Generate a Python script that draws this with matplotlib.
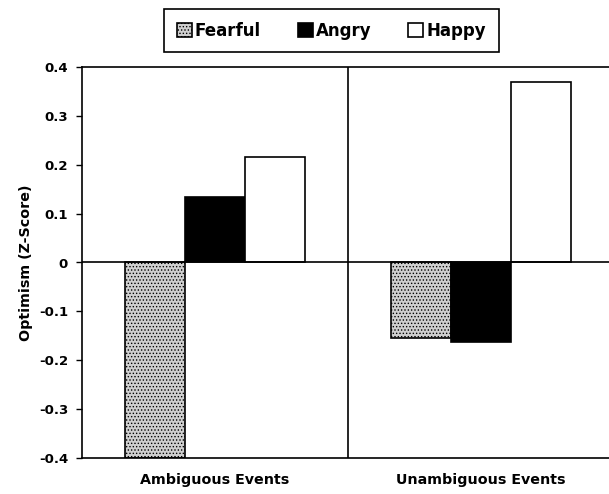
import matplotlib
matplotlib.use("Agg")
import matplotlib.pyplot as plt
import numpy as np

plt.rcParams['font.family'] = ['DejaVu Sans']
plt.rcParams['font.weight'] = 'bold'
plt.rcParams['hatch.color'] = '#888888'
plt.rcParams['hatch.linewidth'] = 0.6

categories = ["Ambiguous Events", "Unambiguous Events"]
series = ["Fearful", "Angry", "Happy"]
fearful = [-0.40, -0.155]
angry = [0.133, -0.163]
happy = [0.215, 0.37]
yticks = [0.4, 0.3, 0.2, 0.1, 0, -0.1, -0.2, -0.3, -0.4]
ytick_labels = ["0.4", "0.3", "0.2", "0.1", "0", "-0.1", "-0.2", "-0.3", "-0.4"]

fig = plt.figure(figsize=(6.09, 4.94), dpi=100)
ax = fig.add_axes([82/609, 1-458/494, 532/609, (458-67)/494])

x = np.arange(len(categories))
w = 0.225
styles = [
    dict(facecolor='#cfcfcf', hatch='.....', edgecolor='black'),
    dict(facecolor='black', edgecolor='black'),
    dict(facecolor='white', edgecolor='black'),
]
vals = [fearful, angry, happy]
for i, (name, v, st) in enumerate(zip(series, vals, styles)):
    ax.bar(x + (i-1)*w, v, w, label=name, linewidth=1.2, **st)

ax.set_xlim(-0.5, 1.5)
ax.set_ylim(-0.4, 0.4)
ax.axhline(0, color='black', linewidth=1.2)
ax.axvline(0.5, color='black', linewidth=1.2)
ax.set_yticks(yticks)
ax.set_yticklabels(ytick_labels, fontsize=9.5, fontweight='bold')
ax.set_xticks(x)
ax.set_xticklabels(categories, fontsize=10.3, fontweight='bold')
ax.tick_params(axis='x', length=0, pad=11)
ax.tick_params(axis='y', length=4, width=1, direction='out', pad=6)
ax.set_ylabel("Optimism (Z-Score)", fontsize=10.3, fontweight='bold')
ax.yaxis.set_label_coords(-(82-33)/532, 0.5)
for s in ax.spines.values():
    s.set_linewidth(1.2)

leg = fig.legend(loc='center', bbox_to_anchor=(331.5/609, 1-31/494), ncol=3,
                 fancybox=False, edgecolor='black', framealpha=1,
                 prop={'size': 12, 'weight': 'bold'},
                 handlelength=0.9, handleheight=0.9, handletextpad=0.2,
                 columnspacing=2.2, borderpad=0.75)
leg.get_frame().set_linewidth(1.2)

fig.savefig("out.png", dpi=100)
